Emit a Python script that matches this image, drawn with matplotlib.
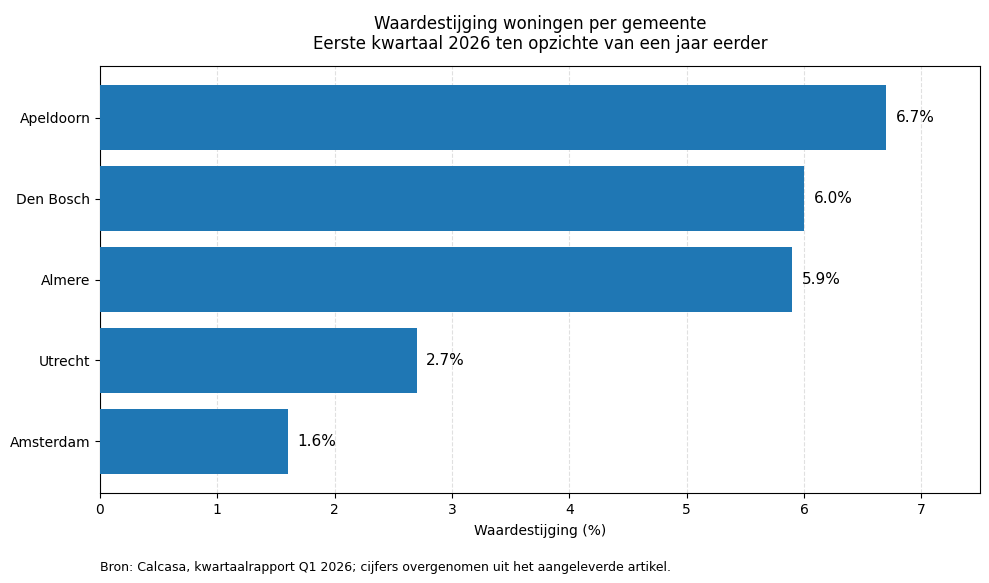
import matplotlib
matplotlib.use("Agg")
import matplotlib.pyplot as plt

gemeenten = ["Amsterdam", "Utrecht", "Almere", "Den Bosch", "Apeldoorn"]
stijging = [1.6, 2.7, 5.9, 6.0, 6.7]

fig = plt.figure(figsize=(9.89, 5.83), dpi=100)
ax = fig.add_axes([100/989, 1-493/583, 880/989, 427/583])

bars = ax.barh(gemeenten, stijging, height=0.8, color="#1f77b4", zorder=3)
for b, v in zip(bars, stijging):
    ax.text(v + 0.08, b.get_y() + b.get_height()/2, f"{v:.1f}%",
            va="center", ha="left", fontsize=11)

ax.set_xlim(0, 7.5)
ax.grid(axis="x", linestyle="--", color="#cccccc", alpha=0.6, zorder=0)
ax.set_axisbelow(True)
ax.set_xlabel("Waardestijging (%)", labelpad=5)
ax.set_title("Waardestijging woningen per gemeente\nEerste kwartaal 2026 ten opzichte van een jaar eerder",
             fontsize=12, pad=12)

fig.text(100/989, 1-567/583, "Bron: Calcasa, kwartaalrapport Q1 2026; cijfers overgenomen uit het aangeleverde artikel.",
         fontsize=9, ha="left", va="center")

fig.savefig("out.png", dpi=100)
